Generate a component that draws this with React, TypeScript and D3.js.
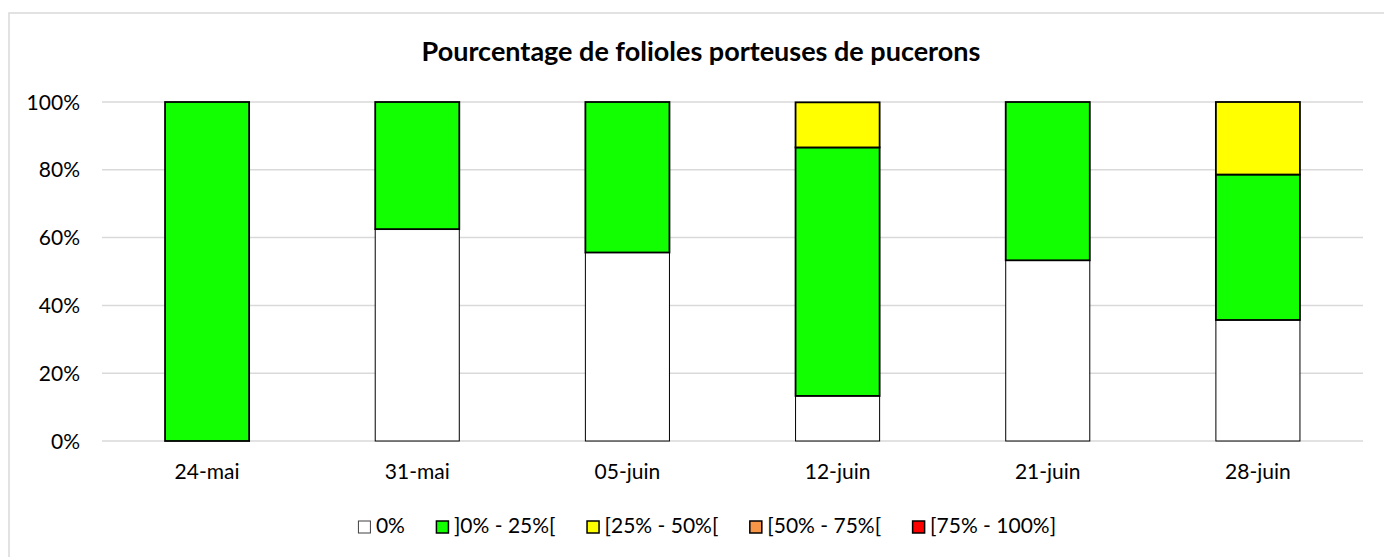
import { scaleBand, scaleLinear, stack } from "d3";

const categories = ["24-mai", "31-mai", "05-juin", "12-juin", "21-juin", "28-juin"];
const seriesNames = ["0%", "]0% - 25%[", "[25% - 50%[", "[50% - 75%[", "[75% - 100%]"];
const zero = [0, 62.5, 55.6, 13.3, 53.3, 35.7];
const low = [100, 37.5, 44.4, 73.3, 46.7, 42.9];
const mid = [0, 0, 0, 13.3, 0, 21.4];
const high = [0, 0, 0, 0, 0, 0];
const top = [0, 0, 0, 0, 0, 0];
const yTicks = [0, 20, 40, 60, 80, 100];
const colors = ["#ffffff", "#11ff00", "#ffff00", "#f79646", "#ff0000"];

const FONT = "Lato, 'Open Sans', sans-serif";

const rows = categories.map((c, i) => ({
  cat: c,
  s0: zero[i],
  s1: low[i],
  s2: mid[i],
  s3: high[i],
  s4: top[i],
}));

function textWidth(txt: string, size: number) {
  const ctx = document.createElement("canvas").getContext("2d");
  if (!ctx) return txt.length * size * 0.5;
  ctx.font = `${size}px Lato`;
  return ctx.measureText(txt).width;
}

export default function App() {
  const W = 1384;
  const H = 557;
  const margin = { left: 102, right: 21, top: 102, bottom: 116 };

  const x = scaleBand<string>()
    .domain(categories)
    .range([margin.left, W - margin.right])
    .paddingInner(0.6)
    .paddingOuter(0.3);
  const y = scaleLinear().domain([0, 100]).range([H - margin.bottom, margin.top]);

  const stacked = stack<any>().keys(["s0", "s1", "s2", "s3", "s4"])(rows);

  // legend layout
  const legendSize = 21;
  const sw = 13;
  const items = seriesNames.map((n) => ({ n, w: sw + 5 + textWidth(n, legendSize) }));
  const gap = 31;
  const total = items.reduce((a, b) => a + b.w, 0) + gap * (items.length - 1);
  let lx = 707 - total / 2;
  const legendPos = items.map((it) => {
    const p = lx;
    lx += it.w + gap;
    return p;
  });

  return (
    <svg
      width={W}
      height={H}
      style={{ position: "absolute", left: 0, top: 0, display: "block", background: "#fff" }}
      fontFamily={FONT}
    >
      <rect x={9} y={13} width={1500} height={700} fill="#fff" stroke="#d9d9d9" strokeWidth={1.5} />
      <text x={701} y={61} textAnchor="middle" fontSize={27} fontWeight="bold" fill="#000">
        Pourcentage de folioles porteuses de pucerons
      </text>

      {yTicks.map((t) => (
        <g key={t}>
          <line
            x1={margin.left}
            x2={W - margin.right}
            y1={y(t)}
            y2={y(t)}
            stroke="#d9d9d9"
            strokeWidth={1.5}
          />
          <text x={80} y={y(t)} dy="0.36em" textAnchor="end" fontSize={21} fill="#000">
            {t}%
          </text>
        </g>
      ))}

      {stacked.map((s, si) =>
        s.map((d, i) =>
          d[1] - d[0] > 0 ? (
            <rect
              key={`${si}-${i}`}
              x={x(categories[i])}
              y={y(d[1])}
              width={x.bandwidth()}
              height={y(d[0]) - y(d[1])}
              fill={colors[si]}
              stroke="#000"
              strokeWidth={si === 0 ? 1 : 1.8}
            />
          ) : null
        )
      )}

      {categories.map((c) => (
        <text
          key={c}
          x={(x(c) ?? 0) + x.bandwidth() / 2}
          y={479}
          textAnchor="middle"
          fontSize={21}
          fill="#000"
        >
          {c}
        </text>
      ))}

      {items.map((it, i) => (
        <g key={it.n} transform={`translate(${legendPos[i]},0)`}>
          <rect
            x={0.5}
            y={521}
            width={sw - 1}
            height={sw - 1}
            fill={colors[i]}
            stroke={i === 0 ? "#404040" : "#000"}
            strokeWidth={i === 0 ? 1 : 1.5}
          />
          <text x={sw + 5} y={533} fontSize={legendSize} fill="#000">
            {it.n}
          </text>
        </g>
      ))}
    </svg>
  );
}
